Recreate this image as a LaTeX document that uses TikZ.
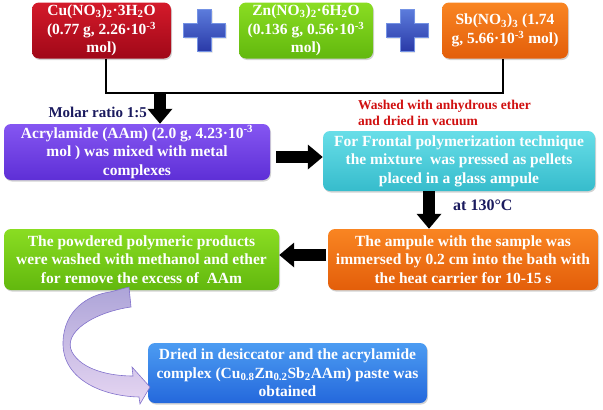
\documentclass[tikz,border=0pt]{standalone}
\usepackage{fontspec}
\setmainfont{Liberation Serif}
\usetikzlibrary{arrows.meta,shadows}
\definecolor{redT}{HTML}{D41A2A}
\definecolor{redB}{HTML}{A00818}
\definecolor{grT}{HTML}{8ADD22}
\definecolor{grB}{HTML}{62B80E}
\definecolor{orT}{HTML}{F98522}
\definecolor{orB}{HTML}{E35E0A}
\definecolor{puT}{HTML}{8556F2}
\definecolor{puB}{HTML}{5E2FD6}
\definecolor{cyT}{HTML}{68DEE8}
\definecolor{cyB}{HTML}{36BCCC}
\definecolor{blT}{HTML}{4C9CF2}
\definecolor{blB}{HTML}{2468DC}
\definecolor{plT}{HTML}{5C7CDC}
\definecolor{plB}{HTML}{2A3AA8}
\definecolor{plD}{HTML}{7492E4}
\definecolor{cvT}{HTML}{ADA4D8}
\definecolor{cvB}{HTML}{E6D6F2}
\definecolor{cvD}{HTML}{8272CC}
\definecolor{navy}{HTML}{1A1A5E}
\definecolor{redtxt}{HTML}{D01010}
\begin{document}
\begin{tikzpicture}[x=1pt,y=-1pt,
  box/.style={rounded corners=7pt, align=center, text=white, inner sep=0pt,
    font=\fontsize{15.5}{18.5}\selectfont\bfseries,
    drop shadow={shadow xshift=1pt,shadow yshift=-1.5pt,opacity=0.35}},
  bigarrow/.style={line width=12pt, -{Triangle[width=24pt,length=15pt]}},
  plus/.style={top color=plT, bottom color=plB, draw=plD, line width=0.8pt,
    drop shadow={shadow xshift=1pt,shadow yshift=-1.5pt,opacity=0.3}},
  lbl/.style={font=\fontsize{15}{18}\selectfont\bfseries, inner sep=0pt}
]
\useasboundingbox (0,0) rectangle (603,410);

% top row
\node[box, top color=redT, bottom color=redB, minimum width=139pt, minimum height=56pt] (cu) at (101.5,30.5)
  {Cu(NO\textsubscript{3})\textsubscript{2}·3H\textsubscript{2}O\\(0.77 g, 2.26·10\textsuperscript{-3}\\mol)};
\node[box, top color=grT, bottom color=grB, minimum width=134pt, minimum height=56pt] (zn) at (306,30.5)
  {Zn(NO\textsubscript{3})\textsubscript{2}·6H\textsubscript{2}O\\(0.136 g, 0.56·10\textsuperscript{-3}\\mol)};
\node[box, top color=orT, bottom color=orB, minimum width=126pt, minimum height=56pt] (sb) at (505,30.5)
  {Sb(NO\textsubscript{3})\textsubscript{3} (1.74\\g, 5.66·10\textsuperscript{-3} mol)};

% plus signs
\foreach \cx in {204.5,407}{
\begin{scope}[shift={(\cx,30)}]
\path[plus] (-7,-21) -- (7,-21) -- (7,-7) -- (21,-7) -- (21,7) -- (7,7) -- (7,21)
  -- (-7,21) -- (-7,7) -- (-21,7) -- (-21,-7) -- (-7,-7) -- cycle;
\end{scope}}

% second row
\node[box, top color=puT, bottom color=puB, minimum width=266pt, minimum height=56pt] (aam) at (137,152)
  {Acrylamide (AAm) (2.0 g, 4.23·10\textsuperscript{-3}\\mol ) was mixed with metal\\complexes};
\node[box, top color=cyT, bottom color=cyB, minimum width=272pt, minimum height=60pt] (fp) at (459,161)
  {For Frontal polymerization technique\\the mixture\ \ was pressed as pellets\\placed in a glass ampule};

% third row
\node[box, top color=orT, bottom color=orB, minimum width=270pt, minimum height=61pt] (amp) at (463,259.5)
  {The ampule with the sample was\\immersed by 0.2 cm into the bath with\\the heat carrier for 10-15 s};
\node[box, top color=grT, bottom color=grB, minimum width=275pt, minimum height=61pt] (pow) at (141.5,259.5)
  {The powdered polymeric products\\were washed with methanol and ether\\for remove the excess of\ \ AAm};

% bottom
\node[box, top color=blT, bottom color=blB, minimum width=279pt, minimum height=60pt] (dry) at (287.5,373)
  {Dried in desiccator and the acrylamide\\complex (Cu\textsubscript{0.8}Zn\textsubscript{0.2}Sb\textsubscript{2}AAm) paste was\\obtained};

% connector from top boxes
\coordinate (j) at (160,93);
\draw[line width=1.8pt] ([xshift=4.5pt]cu.south) |- (j) -| ([xshift=-2pt]sb.south);
\draw[bigarrow] ([yshift=1pt]j) -- (j |- aam.north);

% labels
\node[lbl, text=navy, anchor=east] (mr) at (147,112) {Molar ratio 1:5};
\node[lbl, text=redtxt, align=left, anchor=north west, font=\fontsize{13.5}{16}\selectfont\bfseries] (wash) at (358,100)
  {Washed with anhydrous ether\\and dried in vacuum};
\node[lbl, text=navy, anchor=west, font=\fontsize{16}{18}\selectfont\bfseries] (t130) at (453,205) {at 130°C};

% block arrows
\coordinate (r1) at (276,157);
\draw[bigarrow] (r1) -- (r1 -| fp.west);
\coordinate (d1) at (429,191);
\draw[bigarrow] (d1) -- (d1 |- amp.north);
\coordinate (l1) at (326,255);
\draw[bigarrow] (l1) -- (l1 -| pow.east);

% curved arrow
\path[top color=cvT, bottom color=cvB, draw=cvD, line width=0.6pt]
  (110,292) -- (129,287) -- (131,307)
  .. controls (95,312) and (62,332) .. (72,352)
  .. controls (82,370) and (110,376) .. (133,376)
  -- (132,367) -- (150,387) -- (140,404) -- (139,397)
  .. controls (100,396) and (62,378) .. (63,342)
  .. controls (64,310) and (88,295) .. (110,292) -- cycle;
\end{tikzpicture}
\end{document}
